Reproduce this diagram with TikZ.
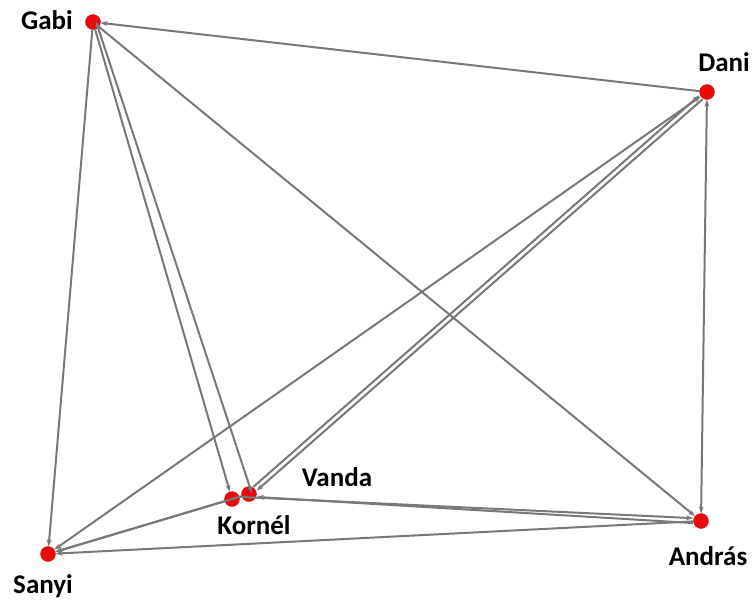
\documentclass[tikz,border=0pt]{standalone}
\usepackage{fontspec}
\setmainfont{Carlito}
\usetikzlibrary{calc,arrows.meta}
\definecolor{edgegray}{RGB}{120,120,120}
\definecolor{dotred}{RGB}{235,10,10}
\tikzset{
  vert/.style={circle,fill=dotred,draw=dotred!80!black,line width=0.3pt,minimum size=15pt,inner sep=0pt},
  lbl/.style={font=\bfseries\fontsize{27}{29}\selectfont,text=black,inner sep=0pt},
  edge/.style={draw=edgegray,line width=2pt,-{Stealth[length=7pt,width=5pt]}},
  pedge/.style={edge,shorten >=8pt,shorten <=8pt}
}
\begin{document}
\begin{tikzpicture}[x=1pt,y=-1pt]
\useasboundingbox (0,0) rectangle (753,603);
\node[vert] (g) at (93,22) {};
\node[vert] (d) at (707,92) {};
\node[vert] (v) at (249,494) {};
\node[vert] (k) at (232,499) {};
\node[vert] (s) at (48,554) {};
\node[vert] (a) at (701,521) {};
\node[lbl] (gl) at (47,20) {Gabi};
\node[lbl] (dl) at (724,62) {Dani};
\node[lbl] (vl) at (337,477) {Vanda};
\node[lbl] (kl) at (254,525) {Kornél};
\node[lbl] (sl) at (43,586) {Sanyi};
\node[lbl] (al) at (708,556) {András};
% single edges
\draw[edge] (d) -- (g);
\draw[edge] (g) -- (a);
\draw[edge] (g) -- (s);
\draw[edge] (g) -- (k);
\draw[edge,{Stealth[length=7pt,width=5pt]}-{Stealth[length=7pt,width=5pt]}] ($(g)!3pt!90:(v)$) -- ($(v)!3pt!-90:(g)$);
\draw[edge,{Stealth[length=7pt,width=5pt]}-{Stealth[length=7pt,width=5pt]}] (s) -- (d);
\draw[edge,{Stealth[length=7pt,width=5pt]}-{Stealth[length=7pt,width=5pt]}] (d) -- (a);
\draw[edge] (k) -- (s);
\draw[edge] (a) -- (s);
\draw[edge] (v) -- (s);
% double (mutual) edges
\draw[pedge] ($(d)!2.5pt!90:(v)$) -- ($(v)!2.5pt!-90:(d)$);
\draw[pedge] ($(v)!2.5pt!90:(d)$) -- ($(d)!2.5pt!-90:(v)$);
\draw[pedge] ($(a)!2.5pt!90:(v)$) -- ($(v)!2.5pt!-90:(a)$);
\draw[pedge] ($(k)!2.5pt!90:(a)$) -- ($(a)!2.5pt!-90:(k)$);
\end{tikzpicture}
\end{document}
